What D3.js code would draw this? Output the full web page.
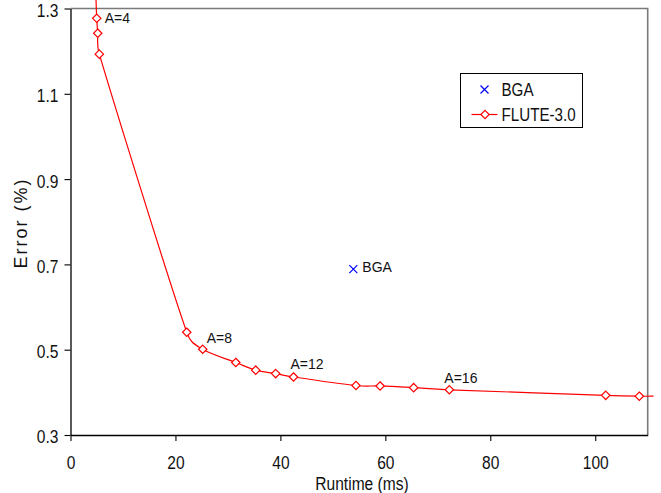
<!DOCTYPE html>
<html>
<head>
<meta charset="utf-8">
<script src="https://cdn.jsdelivr.net/npm/d3@7"></script>
<style>
  html, body { margin: 0; padding: 0; background: #fff; }
  svg { display: block; }
  text { font-family: "Liberation Sans", Arial, sans-serif; }
</style>
</head>
<body>
<svg id="chart" width="661" height="493"></svg>
<script>
// FLUTE-3.0 runtime (ms) vs. error (%) for increasing accuracy parameter A
const fluteRuntime = [5.0, 5.19, 5.49, 22.15, 25.2, 31.5, 35.3, 39.1, 42.5, 54.4, 59.0, 65.4, 72.2, 102.0, 108.4];
const fluteError   = [1.277, 1.242, 1.193, 0.541, 0.501, 0.470, 0.452, 0.444, 0.436, 0.416, 0.415, 0.411, 0.406, 0.393, 0.391];

// smoothed trend through the FLUTE points, running slightly past both ends
const curveRuntime = [4.86, ...fluteRuntime, 111.1];
const curveError   = [1.32, ...fluteError, 0.391];

// annotated accuracy settings (index into the FLUTE series)
const accLabels = ["A=4", "A=8", "A=12", "A=16"];
const accIndex  = [0, 4, 8, 12];

// BGA single result
const bgaRuntime = [53.9];
const bgaError   = [0.689];

const xTicks = [0, 20, 40, 60, 80, 100];
const yTicks = [0.3, 0.5, 0.7, 0.9, 1.1, 1.3];

const svg = d3.select("#chart");
const x = d3.scaleLinear().domain([0, 110]).range([70.5, 647.7]);
const y = d3.scaleLinear().domain([0.3, 1.3]).range([435, 8.5]);

const red = "#ff0000", blue = "#0000ff", ink = "#111";
const NARROW = 0.82; // horizontal squeeze for the condensed labels

// plot frame: grey on top and right
svg.append("path")
  .attr("d", `M${x(0)},${y(1.3)}H${x(110)}V${y(0.3)}`)
  .attr("fill", "none").attr("stroke", "#7a7a7a").attr("stroke-width", 1.6);

// axes
const xAxis = svg.append("g").attr("transform", `translate(0,${y(0.3)})`)
  .call(d3.axisBottom(x).tickValues(xTicks).tickSize(6).tickSizeOuter(0).tickPadding(15).tickFormat(d3.format("d")));
const yAxis = svg.append("g").attr("transform", `translate(${x(0)},0)`)
  .call(d3.axisLeft(y).tickValues(yTicks).tickSize(6).tickSizeOuter(0).tickPadding(6).tickFormat(d3.format(".1f")));
[xAxis, yAxis].forEach(g => {
  g.attr("font-family", null).attr("font-size", null);
  g.select(".domain").attr("stroke", "#000").attr("stroke-width", 1.3);
  g.selectAll(".tick line").attr("stroke", "#000").attr("stroke-width", 1.1);
  g.selectAll(".tick text").each(function () {
    const t = d3.select(this);
    const tx = +t.attr("x") || 0;
    t.attr("x", tx / NARROW).attr("transform", `scale(${NARROW},1)`)
      .attr("font-size", 19).attr("fill", ink);
  });
});
yAxis.selectAll(".tick text").attr("dy", "0.42em");

// axis titles
svg.append("text")
  .attr("transform", `translate(362,489.5) scale(${NARROW},1)`).attr("text-anchor", "middle")
  .attr("font-size", 19).attr("fill", ink).text("Runtime (ms)");
svg.append("text")
  .attr("transform", "translate(27,223) rotate(-90)")
  .attr("text-anchor", "middle").attr("font-size", 18).attr("letter-spacing", 2)
  .attr("fill", ink).text("Error (%)");

// smoothed line: cubic Bezier with control arms capped at half the segment length
function smoothPath(pts) {
  const p = d3.path();
  const n = pts.length;
  const dist = (a, b) => Math.hypot(b[0] - a[0], b[1] - a[1]);
  p.moveTo(pts[0][0], pts[0][1]);
  for (let i = 0; i < n - 1; i++) {
    const P0 = pts[Math.max(i - 1, 0)], P1 = pts[i], P2 = pts[i + 1], P3 = pts[Math.min(i + 2, n - 1)];
    const d12 = dist(P1, P2), d02 = dist(P0, P2), d13 = dist(P1, P3);
    const f1 = d02 > 0 ? Math.min(1 / 6, d12 / (2 * d02)) : 0;
    const f2 = d13 > 0 ? Math.min(1 / 6, d12 / (2 * d13)) : 0;
    p.bezierCurveTo(
      P1[0] + (P2[0] - P0[0]) * f1, P1[1] + (P2[1] - P0[1]) * f1,
      P2[0] - (P3[0] - P1[0]) * f2, P2[1] - (P3[1] - P1[1]) * f2,
      P2[0], P2[1]);
  }
  return p.toString();
}
const pts = curveRuntime.map((r, i) => [x(r), y(curveError[i])]);
svg.append("path")
  .attr("d", smoothPath(pts))
  .attr("fill", "none").attr("stroke", red).attr("stroke-width", 1.2);

// diamond markers
const diamond = (cx, cy, r) => `M${cx},${cy - r}L${cx + r},${cy}L${cx},${cy + r}L${cx - r},${cy}Z`;
svg.append("g").selectAll("path").data(fluteRuntime).join("path")
  .attr("d", (r, i) => diamond(x(r), y(fluteError[i]), 4.2))
  .attr("fill", "#fff").attr("stroke", red).attr("stroke-width", 1.2);

// accuracy labels
const labelOffsets = [[8, 0], [4, -11], [-3, -13], [-5, -12]];
svg.append("g").selectAll("text").data(accLabels).join("text")
  .attr("font-size", 14).attr("fill", ink)
  .attr("dominant-baseline", "central")
  .attr("x", (t, i) => x(fluteRuntime[accIndex[i]]) + labelOffsets[i][0])
  .attr("y", (t, i) => y(fluteError[accIndex[i]]) + labelOffsets[i][1])
  .text(t => t);

// BGA marker
const cross = (cx, cy, r) => `M${cx - r},${cy - r}L${cx + r},${cy + r}M${cx - r},${cy + r}L${cx + r},${cy - r}`;
svg.append("g").selectAll("path").data(bgaRuntime).join("path")
  .attr("d", (r, i) => cross(x(r), y(bgaError[i]), 4))
  .attr("stroke", blue).attr("stroke-width", 1.2).attr("fill", "none");
svg.append("g").selectAll("text").data(bgaRuntime).join("text")
  .attr("font-size", 14).attr("fill", ink)
  .attr("dominant-baseline", "central")
  .attr("x", (r) => x(r) + 9).attr("y", (r, i) => y(bgaError[i]) - 2)
  .text("BGA");

// legend
const lg = svg.append("g").attr("transform", "translate(460.5,73.5)");
lg.append("rect").attr("width", 122).attr("height", 54)
  .attr("fill", "#fff").attr("stroke", "#000").attr("stroke-width", 1);
lg.append("path").attr("d", cross(24, 16, 4)).attr("stroke", blue).attr("stroke-width", 1.2).attr("fill", "none");
lg.append("line").attr("x1", 11).attr("x2", 37).attr("y1", 41).attr("y2", 41)
  .attr("stroke", red).attr("stroke-width", 1.2);
lg.append("path").attr("d", diamond(24.5, 41, 4.2)).attr("fill", "#fff").attr("stroke", red).attr("stroke-width", 1.2);
[["BGA", 16], ["FLUTE-3.0", 41]].forEach(([label, ly]) => {
  lg.append("text").attr("transform", `translate(41,${ly}) scale(${NARROW},1)`)
    .attr("dominant-baseline", "central").attr("font-size", 18.5).attr("fill", ink).text(label);
});
</script>
</body>
</html>
